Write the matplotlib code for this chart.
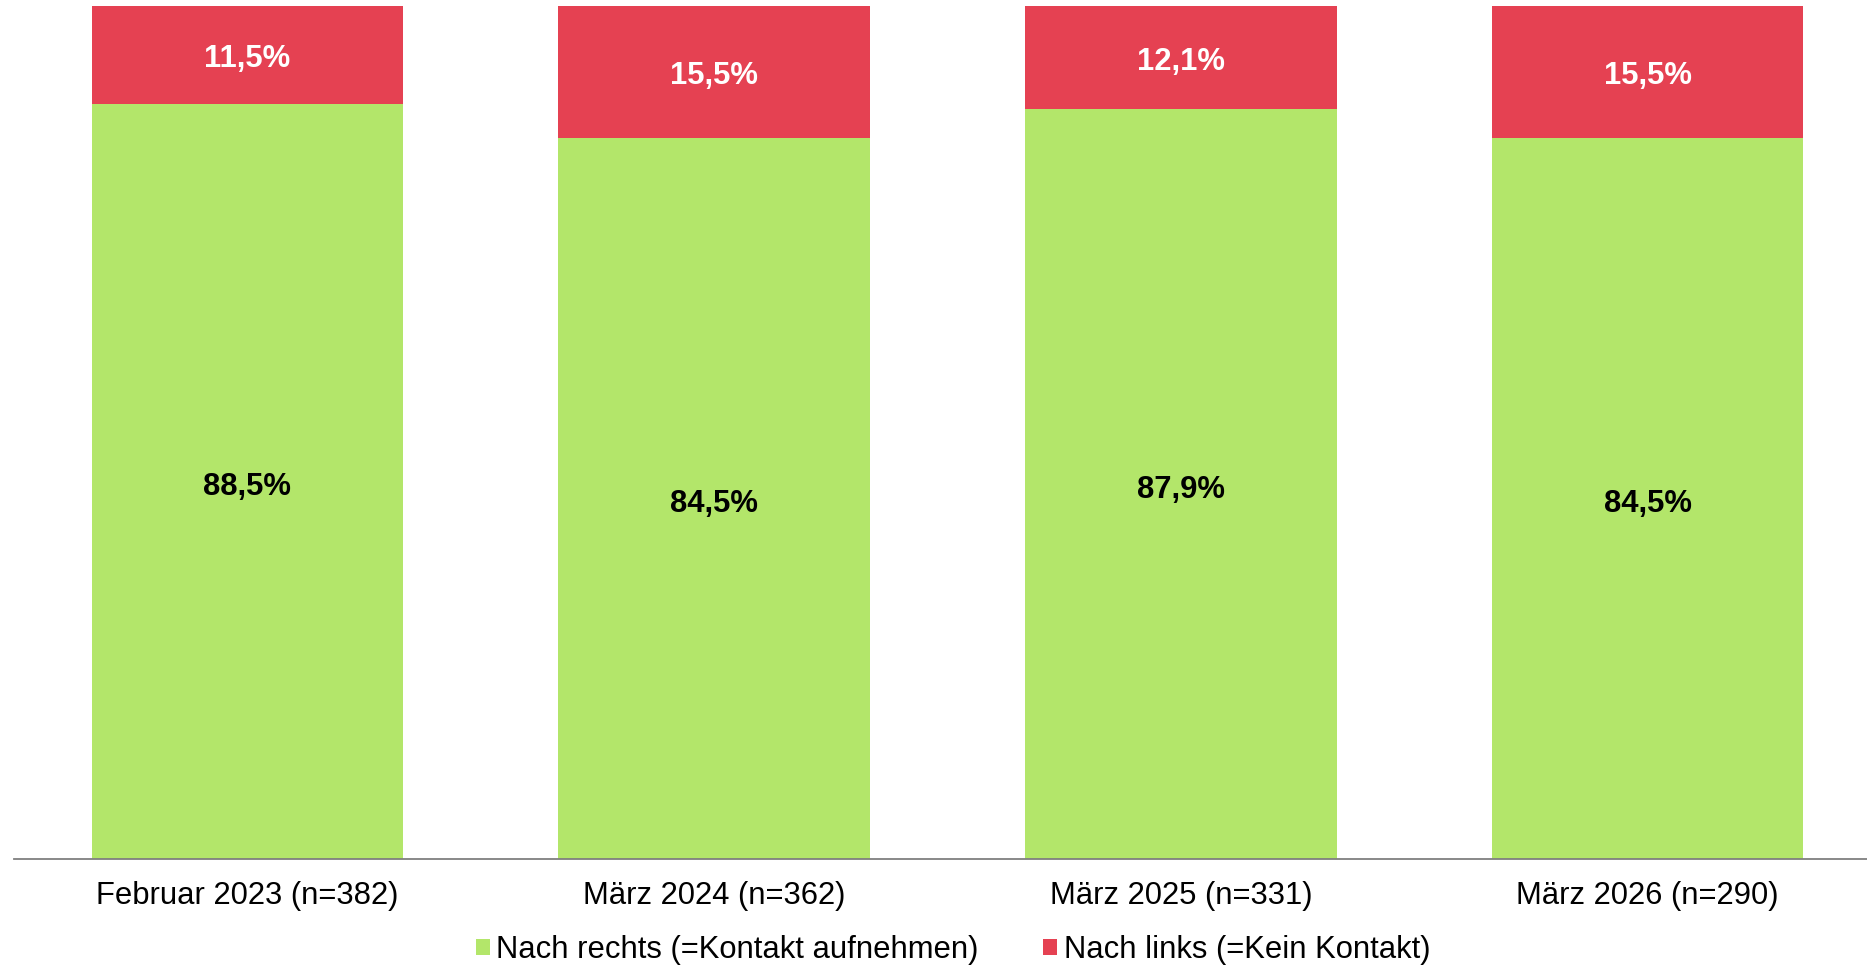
import matplotlib.pyplot as plt
import numpy as np

plt.rcParams['font.family'] = ['Liberation Sans', 'DejaVu Sans']

categories = ['Februar 2023 (n=382)', 'März 2024 (n=362)', 'März 2025 (n=331)', 'März 2026 (n=290)']
rechts = [88.5, 84.5, 87.9, 84.5]
links = [11.5, 15.5, 12.1, 15.5]
series_names = ['Nach rechts (=Kontakt aufnehmen)', 'Nach links (=Kein Kontakt)']

green = '#B3E66A'
red = '#E54152'


def fmt(v):
    return f'{v:.1f}%'.replace('.', ',')


fig = plt.figure(figsize=(18.67, 9.67), dpi=100)
ax = fig.add_axes([14 / 1867, (967 - 859) / 967, 1867 / 1867, 853 / 967])

x = np.arange(len(categories))
b1 = ax.bar(x, rechts, width=0.667, color=green, label=series_names[0])
b2 = ax.bar(x, links, width=0.667, bottom=rechts, color=red, label=series_names[1])

# labels sit a touch below the segment middle, like in the original
for xi, r, l in zip(x, rechts, links):
    ax.annotate(fmt(r), (xi, r / 2), xytext=(0, -4), textcoords='offset points',
                ha='center', va='center', fontsize=22.3, fontweight='bold', color='black')
    ax.annotate(fmt(l), (xi, r + l / 2), xytext=(0, -3), textcoords='offset points',
                ha='center', va='center', fontsize=22.3, fontweight='bold', color='white')

ax.set_xlim(-0.5, 3.5)
ax.set_ylim(0, 100)
ax.set_xticks(x)
ax.set_xticklabels(categories, fontsize=22.3)
ax.tick_params(axis='x', length=0, pad=16)
ax.set_yticks([])
for s in ['top', 'right', 'left']:
    ax.spines[s].set_visible(False)
ax.spines['bottom'].set_color('#7f7f7f')
ax.spines['bottom'].set_linewidth(1.3)

fig.legend(handles=[b1, b2], loc='center', bbox_to_anchor=(953 / 1867, 1 - 950 / 967),
           ncol=2, frameon=False, fontsize=22.3, handlelength=0.45, handleheight=0.45,
           handletextpad=0.2, columnspacing=2.1)

fig.savefig('out.png', dpi=100)
